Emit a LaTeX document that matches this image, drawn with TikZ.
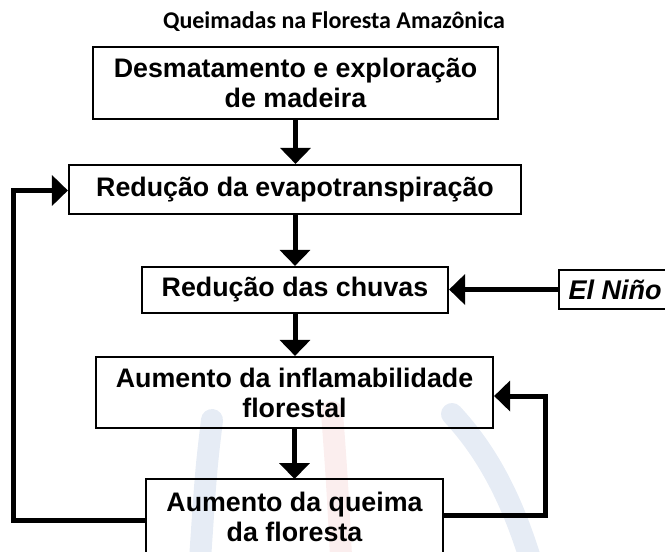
\documentclass[tikz,border=0pt]{standalone}
\usepackage{fontspec}
\setmainfont{Liberation Sans}
\newfontfamily\titlefont{Carlito}
\usetikzlibrary{arrows.meta}
\definecolor{wmblue}{RGB}{230,236,245}
\definecolor{wmred}{RGB}{251,238,238}
\begin{document}
\begin{tikzpicture}[x=1pt,y=-1pt,
  box/.style={draw, line width=2.2pt, inner sep=0pt, align=center,
    font=\bfseries\fontsize{26.8}{30}\selectfont},
  boxline/.style={line width=2.2pt},
  arr/.style={line width=5pt, line join=miter, -{Triangle[length=16pt,width=30pt]}},
  wm/.style={line width=22pt, line cap=round}
  ]
\useasboundingbox (0,0) rectangle (665,552);
% faint watermark
\draw[wm, wmblue] (212,420) .. controls (206,470) .. (199,575);
\draw[wm, wmred] (332,412) .. controls (337,480) .. (342,575);
\draw[wm, wmblue] (452,414) .. controls (490,455) and (515,505) .. (535,575);
% title
\node[font=\titlefont\bfseries\fontsize{24}{28}\selectfont, anchor=base] (title) at (334,28) {Queimadas na Floresta Amazônica};
% boxes
\node[box, minimum width=405pt, minimum height=72pt] (b1) at (295.5,83) {Desmatamento e exploração\\de madeira};
\node[box, minimum width=452pt, minimum height=49pt] (b2) at (295,189.5) {Redução da evapotranspiração};
\node[box, minimum width=306pt, minimum height=46pt] (b3) at (295,290) {Redução das chuvas};
\node[box, minimum width=397pt, minimum height=71pt] (b4) at (294.5,392.5) {Aumento da inflamabilidade\\florestal};
\node[box, draw=none, minimum width=295pt, minimum height=73pt, anchor=north] (b5) at (294.5,479) {Aumento da queima\\da floresta};
\draw[boxline] ([yshift=-15pt]b5.south west) |- (b5.north east) -- ([yshift=-15pt]b5.south east);
\node[box, font=\bfseries\itshape\fontsize{27}{30}\selectfont, minimum width=112pt, minimum height=39pt, anchor=west] (en) at (558,289.5) {El Niño};
% arrows
\draw[arr] (b1.south) -- (b1.south |- b2.north);
\draw[arr] (b2.south) -- (b2.south |- b3.north);
\draw[arr] (b3.south) -- (b3.south |- b4.north);
\draw[arr] (b4.south) -- (b4.south |- b5.north);
\draw[arr] (en.west) -- (b3.east |- en.west);
% feedback loops
\coordinate (lc) at (13,520);
\coordinate (ltop) at (13,190.5);
\draw[arr] (b5.west |- lc) -- (lc) -- (ltop) -- (b2.west |- ltop);
\coordinate (rc) at (545,515);
\coordinate (rtop) at (545,396);
\draw[arr] (b5.east |- rc) -- (rc) -- (rtop) -- (b4.east |- rtop);
\end{tikzpicture}
\end{document}
